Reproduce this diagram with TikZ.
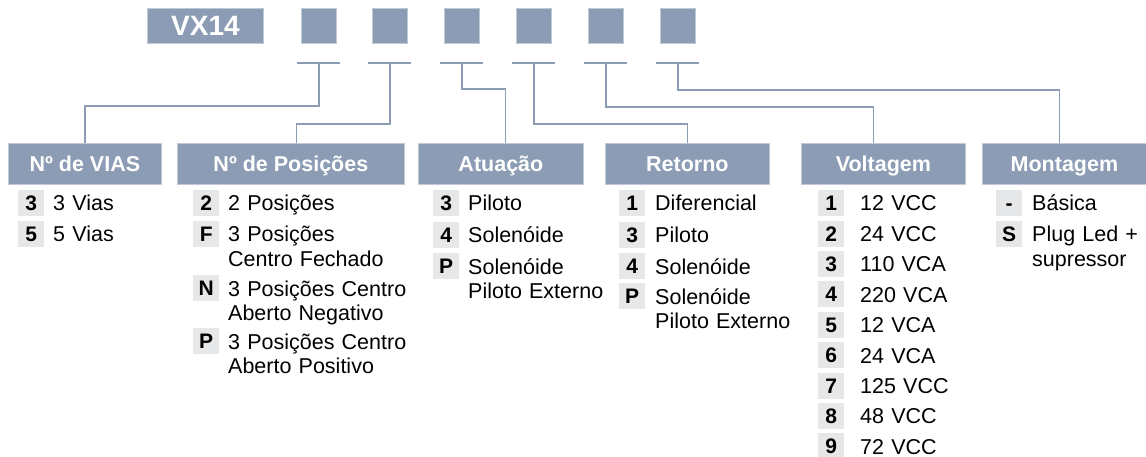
\documentclass[tikz,border=0pt]{standalone}
\usepackage{fontspec}
\setmainfont{Liberation Sans}
\usetikzlibrary{positioning,calc}
\definecolor{slate}{HTML}{8B9CB4}
\definecolor{keygrey}{HTML}{E6E7E8}

\tikzset{
  codebox/.style={fill=slate, draw=slate!55!white, line width=0.8pt, inner sep=0pt, anchor=north west},
  header/.style={codebox, minimum height=41pt, text height=15.5pt, text depth=0pt, text=white,
    font=\fontsize{21.5}{24}\selectfont\bfseries},
  keybox/.style={fill=keygrey, inner sep=0pt, minimum width=26pt, minimum height=26pt, text height=15pt, text depth=0pt,
    anchor=north west, font=\fontsize{21}{24}\selectfont\bfseries},
  itemtext/.style={inner sep=0pt, anchor=base west, text width=190pt, align=left, font=\fontsize{21.5}{24.5}\selectfont},
  wire/.style={draw=slate, line width=1.5pt},
}

\begin{document}
\begin{tikzpicture}[x=1pt,y=1pt]
  \useasboundingbox (0,0) rectangle (1146,-457);

  % code line
  \node[codebox, minimum width=116pt, minimum height=35pt, text=white, font=\fontsize{28}{30}\selectfont\bfseries] (vx) at (147,-8) {VX14};
  \foreach \x [count=\i] in {301,372,444,516,588,660} {
    \node[codebox, minimum width=35pt, minimum height=35pt] (s\i) at (\x,-8) {};
    \coordinate (t\i) at ($(s\i.south)+(0,-19)$);
    \draw[wire] ($(t\i)+(-21.5,0)$) -- ($(t\i)+(21.5,0)$);
  }

  % headers
  \foreach \x/\w/\txt [count=\i] in {8/153/Nº de VIAS, 177/227/Nº de Posições, 418/165/Atuação,
      605/164/Retorno, 801/164/Voltagem, 982/164/Montagem} {
    \node[header, minimum width=\w pt] (h\i) at (\x,-143) {\txt};
  }

  % connectors
  \foreach \i/\dy/\dx in {1/43/0, 2/61/5.5, 3/26/4.5, 4/61/0, 5/44/-10, 6/27/-5} {
    \draw[wire] (t\i) -- ++(0,-\dy) -| ($(h\i.north)+(\dx,0)$);
  }

  % Nº de VIAS
  \foreach \k/\t/\y [count=\i] in {3/3 Vias/190, 5/5 Vias/221} {
    \node[keybox] (via-k\i) at (18,-\y) {\k};
    \node[itemtext] (via-t\i) at (53,-\y-21) {\t};
  }
  % Nº de Posições
  \foreach \k/\t/\y [count=\i] in {2/2 Posições/190, F/{3 Posições\\Centro Fechado}/221,
      N/{3 Posições Centro\\Aberto Negativo}/275, P/{3 Posições Centro\\Aberto Positivo}/328} {
    \node[keybox] (pos-k\i) at (193,-\y) {\k};
    \node[itemtext] (pos-t\i) at (228,-\y-21) {\t};
  }
  % Atuação
  \foreach \k/\t/\y [count=\i] in {3/Piloto/190, 4/Solenóide/222, P/{Solenóide\\Piloto Externo}/253} {
    \node[keybox] (atu-k\i) at (433,-\y) {\k};
    \node[itemtext] (atu-t\i) at (468,-\y-21) {\t};
  }
  % Retorno
  \foreach \k/\t/\y [count=\i] in {1/Diferencial/190, 3/Piloto/222, 4/Solenóide/253,
      P/{Solenóide\\Piloto Externo}/283} {
    \node[keybox] (ret-k\i) at (619,-\y) {\k};
    \node[itemtext] (ret-t\i) at (655,-\y-21) {\t};
  }
  % Voltagem
  \foreach \k/\t [count=\i] in {1/12 VCC, 2/24 VCC, 3/110 VCA, 4/220 VCA, 5/12 VCA,
      6/24 VCA, 7/125 VCC, 8/48 VCC, 9/72 VCC} {
    \pgfmathsetmacro{\y}{190+30.4*(\i-1)}
    \node[keybox] (vol-k\i) at (818,-\y) {\k};
    \node[itemtext] (vol-t\i) at (860,-\y-21) {\t};
  }
  % Montagem
  \foreach \k/\t/\y [count=\i] in {-/Básica/190, S/{Plug Led +\\supressor}/221} {
    \node[keybox] (mon-k\i) at (996,-\y) {\k};
    \node[itemtext] (mon-t\i) at (1032,-\y-21) {\t};
  }
\end{tikzpicture}
\end{document}
